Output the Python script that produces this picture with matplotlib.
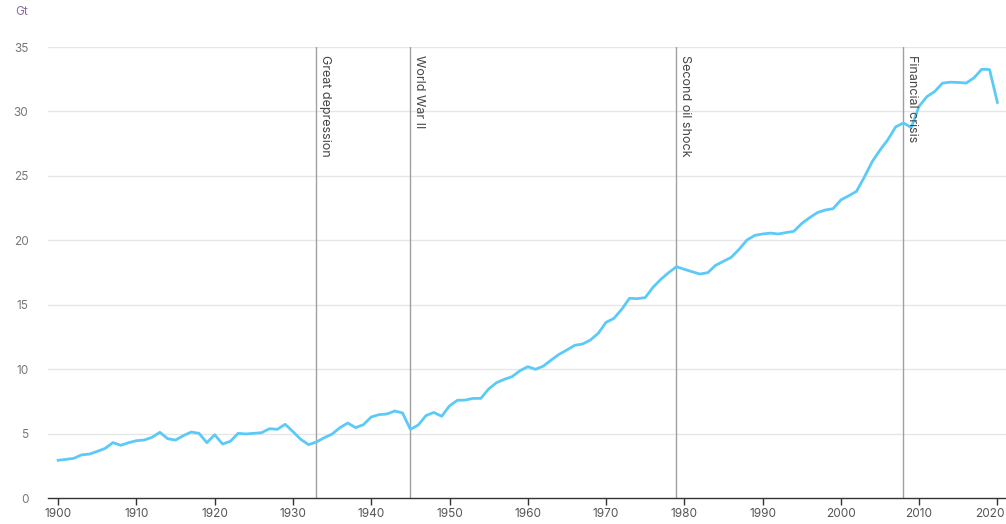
import matplotlib
matplotlib.use("Agg")
import matplotlib.pyplot as plt
import matplotlib.transforms as mtransforms

years = list(range(1900, 2021))
emissions = [
    2.93, 3.0, 3.08, 3.35, 3.41, 3.62, 3.85, 4.3, 4.09, 4.29,
    4.45, 4.5, 4.71, 5.1, 4.6, 4.5, 4.84, 5.12, 5.02, 4.29,
    4.91, 4.19, 4.4, 5.02, 4.97, 5.02, 5.07, 5.38, 5.33, 5.72,
    5.15, 4.55, 4.14, 4.35, 4.68, 4.96, 5.46, 5.82, 5.46, 5.69,
    6.29, 6.47, 6.52, 6.75, 6.6, 5.33, 5.66, 6.4, 6.64, 6.34,
    7.15, 7.58, 7.6, 7.73, 7.73, 8.46, 8.95, 9.21, 9.42, 9.88,
    10.19, 9.99, 10.24, 10.71, 11.15, 11.49, 11.85, 11.95, 12.26, 12.78,
    13.63, 13.94, 14.64, 15.5, 15.47, 15.55, 16.35, 16.97, 17.49, 17.95,
    17.75, 17.56, 17.38, 17.49, 18.06, 18.37, 18.68, 19.3, 20.02, 20.38,
    20.49, 20.56, 20.49, 20.6, 20.7, 21.3, 21.75, 22.15, 22.35, 22.45,
    23.13, 23.45, 23.8, 24.9, 26.1, 27.0, 27.8, 28.8, 29.1, 28.75,
    30.4, 31.15, 31.55, 32.2, 32.27, 32.25, 32.2, 32.6, 33.27, 33.25,
    30.7,
]
event_years = [1933, 1945, 1979, 2008]
event_labels = ["Great depression", "World War II", "Second oil shock", "Financial crisis"]
x_ticks = list(range(1900, 2021, 10))
y_ticks = [0, 5, 10, 15, 20, 25, 30, 35]

plt.rcParams['font.family'] = ['Inter', 'DejaVu Sans']

fig = plt.figure(figsize=(10.06, 5.24), dpi=100)
ax = fig.add_axes([0.0477, 0.0496, 0.9523, 0.8607])

ax.set_xlim(1898.7, 2021.1)
ax.set_ylim(0, 35)

for y in y_ticks[1:]:
    ax.axhline(y, color="#e6e6e6", lw=1, zorder=0)

for yr, lab in zip(event_years, event_labels):
    ax.axvline(yr, color="#a0a0a0", lw=1, zorder=1)
    ax.text(yr + 0.35, 34.4, lab, rotation=-90, ha="left", va="top",
            fontsize=9, color="#444444", zorder=3)

ax.plot(years, emissions, color="#5ccaf8", lw=2, zorder=2, solid_joinstyle="round")

for s in ["top", "right", "left"]:
    ax.spines[s].set_visible(False)
ax.spines["bottom"].set_color("#333333")
ax.spines["bottom"].set_linewidth(1)

ax.set_xticks(x_ticks)
ax.set_xticklabels([str(t) for t in x_ticks])
ax.set_yticks(y_ticks)
ax.set_yticklabels([str(t) for t in y_ticks])
ax.tick_params(axis="x", length=5, width=1, color="#333333", labelsize=8.5,
               labelcolor="#555555", pad=2)
ax.tick_params(axis="y", length=0, labelsize=8.5, labelcolor="#777777", pad=14)

last = ax.get_xticklabels()[-1]
last.set_transform(last.get_transform() + mtransforms.ScaledTranslation(-8 / 100, 0, fig.dpi_scale_trans))

fig.text(15 / 1006, 1 - 12 / 524, "Gt", fontsize=8.5, color="#8a6f9a", ha="left", va="center")

fig.savefig("out.png", dpi=100)
